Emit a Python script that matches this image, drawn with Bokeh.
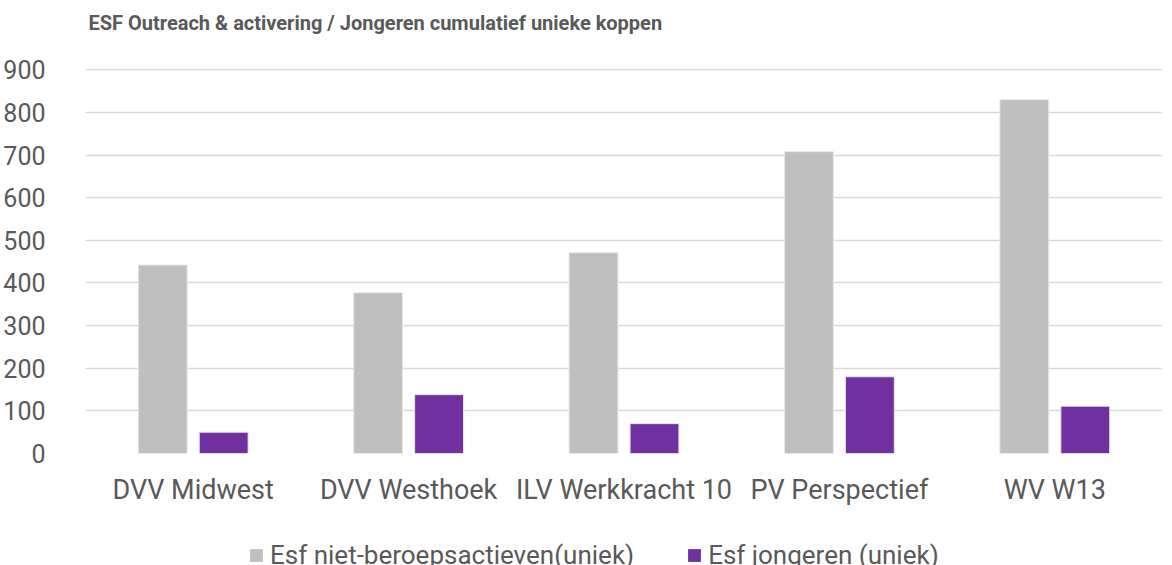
from bokeh.plotting import figure
from bokeh.layouts import column
from bokeh.models import FactorRange, Legend, LegendItem, ColumnDataSource, Range1d, Label
from bokeh.transform import dodge
from bokeh.embed import file_html
from bokeh.resources import INLINE

categories = ["DVV Midwest", "DVV Westhoek", "ILV Werkkracht 10", "PV Perspectief", "WV W13"]
niet_beroepsactieven = [442, 377, 471, 708, 830]
jongeren = [50, 138, 70, 180, 111]
series_names = ["Esf niet-beroepsactieven(uniek)", "Esf jongeren (uniek)"]
series_colors = ["#bfbfbf", "#7030a0"]
y_ticks = [0, 100, 200, 300, 400, 500, 600, 700, 800, 900]
title_text = "ESF Outreach & activering / Jongeren cumulatief unieke koppen"

FONT = "Roboto"
TXT = "#595959"
W = 1156

src = ColumnDataSource(dict(cat=categories, a=niet_beroepsactieven, b=jongeren))

# ---- title strip ----
pt = figure(width=W, height=52, x_range=Range1d(0, 1), y_range=Range1d(0, 1),
            x_axis_location=None, y_axis_location=None, toolbar_location=None,
            output_backend="svg", min_border=0)
pt.outline_line_color = None
pt.grid.visible = False
pt.add_layout(Label(x=3, y=42, x_units="screen", y_units="screen", text=title_text,
                    text_font=FONT, text_font_size="20px", text_font_style="bold",
                    text_color=TXT, text_baseline="top", text_align="left"))

# ---- main chart ----
p = figure(x_range=FactorRange(*categories, range_padding=0), y_range=Range1d(0, 903),
           width=W, height=447, frame_width=1077, frame_height=385,
           output_backend="svg", toolbar_location=None,
           min_border_left=79, min_border_right=0, min_border_top=16, min_border_bottom=46)

p.vbar(x=dodge("cat", -0.1415, range=p.x_range), top="a", width=0.227, source=src,
       fill_color=series_colors[0], line_color="#e8e8e8", line_width=1)
p.vbar(x=dodge("cat", 0.1415, range=p.x_range), top="b", width=0.227, source=src,
       fill_color=series_colors[1], line_color="#e8e8e8", line_width=1)

p.outline_line_color = None
p.xgrid.grid_line_color = None
p.ygrid.grid_line_color = "#d9d9d9"
p.ygrid.grid_line_width = 1.5
p.yaxis.ticker = y_ticks

for ax in (p.xaxis[0], p.yaxis[0]):
    ax.axis_line_color = None
    ax.major_tick_line_color = None
    ax.minor_tick_line_color = None
    ax.major_label_text_font = FONT
    ax.major_label_text_color = TXT

p.yaxis.major_label_text_font_size = "25px"
p.xaxis.major_label_text_font_size = "27px"
p.yaxis.major_label_standoff = 34
p.xaxis.major_label_standoff = 14

# ---- legend strip ----
pl = figure(width=W, height=64, x_range=Range1d(0, 1), y_range=Range1d(0, 1),
            x_axis_location=None, y_axis_location=None, toolbar_location=None,
            output_backend="svg", min_border=0)
pl.outline_line_color = None
pl.grid.visible = False
# legend keys: same data, drawn outside this strip's visible range, only the swatches show
k1 = pl.vbar(x="a", top="a", width=0.1, source=src, fill_color=series_colors[0], line_color=None)
k2 = pl.vbar(x="b", top="b", width=0.1, source=src, fill_color=series_colors[1], line_color=None)
legend = Legend(items=[LegendItem(label=series_names[0], renderers=[k1]),
                       LegendItem(label=series_names[1], renderers=[k2])],
                orientation="horizontal", location=(163, 1),
                label_text_font=FONT, label_text_font_size="26px", label_text_color=TXT,
                glyph_width=16, glyph_height=16, label_height=32, spacing=52, label_standoff=6,
                border_line_color=None, background_fill_alpha=0, padding=0, margin=0)
pl.add_layout(legend, "center")

layout = column(pt, p, pl)
open("out.html", "w").write(file_html(layout, INLINE))
